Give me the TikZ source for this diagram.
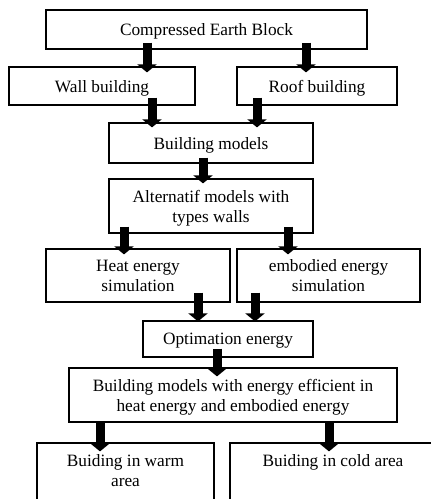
\documentclass[tikz,border=0pt]{standalone}
\usepackage{fontspec}
\setmainfont{Liberation Serif}
\usetikzlibrary{arrows.meta,calc}
\tikzset{
  boxn/.style={draw=black, line width=1.2pt, align=center, inner sep=0pt, text depth=0pt,
    font=\fontsize{17.3}{20}\selectfont},
  txt/.style={align=center, inner sep=0pt, font=\fontsize{17.3}{19.5}\selectfont},
  blk/.style={line width=9pt, -{Triangle[width=19pt,length=8pt]}, black}
}
\begin{document}
\begin{tikzpicture}[x=1pt,y=1pt]
\useasboundingbox (0,0) rectangle (431,-499);
\clip (0,0) rectangle (431,-499);
\node[boxn, minimum width=321pt, minimum height=39pt] (ceb) at (206.5,-29.5) {Compressed Earth Block};
\node[boxn, minimum width=186pt, minimum height=38pt] (wall) at (102,-86) {Wall building};
\node[boxn, minimum width=160pt, minimum height=38pt] (roof) at (317,-86) {Roof building};
\node[boxn, minimum width=204pt, minimum height=40pt] (bm) at (211,-143) {Building models};
\node[boxn, minimum width=204pt, minimum height=54pt] (alt) at (211,-206) {Alternatif models with\\types walls};
\node[boxn, minimum width=184pt, minimum height=53pt] (heat) at (138,-275.5) {Heat energy\\simulation};
\node[boxn, minimum width=183pt, minimum height=53pt] (emb) at (328.5,-275.5) {embodied energy\\simulation};
\node[boxn, minimum width=170pt, minimum height=36pt] (opt) at (228,-339) {Optimation energy};
\node[boxn, minimum width=328pt, minimum height=54pt] (bme) at (233,-395) {Building models with energy efficient in\\heat energy and embodied energy};
\node[boxn, minimum width=177pt, minimum height=100pt] (warm) at (125.5,-493) {};
\node[boxn, minimum width=206pt, minimum height=100pt] (cold) at (333,-493) {};
\node[txt, anchor=north] (warmt) at ([yshift=-12pt]warm.north) {Buiding in warm\\area};
\node[txt, anchor=north] (coldt) at ([yshift=-12pt]cold.north) {Buiding in cold area};
% arrows
\draw[blk] ([xshift=-59.5pt,yshift=7pt]ceb.south) -- ([xshift=45pt,yshift=-6pt]wall.north);
\draw[blk] ([xshift=99.5pt,yshift=7pt]ceb.south) -- ([xshift=-11pt,yshift=-6pt]roof.north);
\draw[blk] ([xshift=50pt,yshift=8pt]wall.south) -- ([xshift=-59pt,yshift=-5pt]bm.north);
\draw[blk] ([xshift=-60pt,yshift=8pt]roof.south) -- ([xshift=46pt,yshift=-5pt]bm.north);
\draw[blk] ([xshift=-8pt,yshift=6pt]bm.south) -- ([xshift=-8pt,yshift=-5pt]alt.north);
\draw[blk] ([xshift=-87pt,yshift=7pt]alt.south) -- ([xshift=-14pt,yshift=-6pt]heat.north);
\draw[blk] ([xshift=77pt,yshift=7pt]alt.south) -- ([xshift=-40.5pt,yshift=-6pt]emb.north);
\draw[blk] ([xshift=60pt,yshift=10pt]heat.south) -- ([xshift=-30pt,yshift=-1pt]opt.north);
\draw[blk] ([xshift=-73.5pt,yshift=10pt]emb.south) -- ([xshift=27pt,yshift=-1pt]opt.north);
\draw[blk] ([xshift=-11pt,yshift=9pt]opt.south) -- ([xshift=-16pt,yshift=-9pt]bme.north);
\draw[blk] ([xshift=-133pt,yshift=0pt]bme.south) -- ([xshift=-25.5pt,yshift=-9pt]warm.north);
\draw[blk] ([xshift=96pt,yshift=0pt]bme.south) -- ([xshift=-4pt,yshift=-9pt]cold.north);
\end{tikzpicture}
\end{document}
